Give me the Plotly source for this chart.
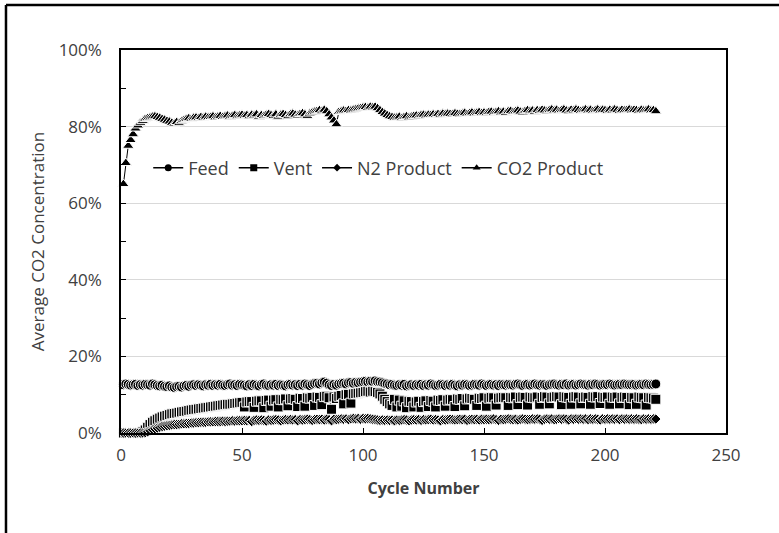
import plotly.graph_objects as go

cycles = list(range(1, 222))

feed = [12.6,12.8,12.7,12.5,12.6,12.7,12.4,12.6,12.5,12.7,
12.6,12.5,12.8,12.6,12.4,12.3,12.5,12.2,12.1,12.3,
12.0,11.9,12.1,12.2,12.0,12.3,12.4,12.2,12.5,12.6,
12.4,12.6,12.5,12.3,12.6,12.5,12.7,12.4,12.6,12.5,
12.7,12.5,12.4,12.6,12.8,12.5,12.6,12.4,12.7,12.6,
12.5,12.3,12.6,12.4,12.7,12.5,12.3,12.6,12.8,12.5,
12.4,12.6,12.5,12.7,12.4,12.6,12.5,12.3,12.6,12.7,
12.5,12.6,12.4,12.7,12.5,12.8,12.6,12.4,12.7,12.9,
13.0,12.8,13.1,13.3,13.0,12.6,12.4,12.7,12.5,12.8,
12.9,13.0,12.8,13.1,13.2,13.0,13.2,13.1,13.3,13.4,
13.5,13.3,13.5,13.4,13.6,13.4,13.3,13.1,12.9,12.8,
12.6,12.7,12.5,12.4,12.6,12.5,12.7,12.3,12.5,12.6,
12.4,12.6,12.5,12.7,12.4,12.6,12.5,12.8,12.6,12.4,
12.5,12.7,12.6,12.4,12.6,12.5,12.7,12.5,12.3,12.6,
12.5,12.7,12.6,12.4,12.5,12.7,12.6,12.5,12.8,12.6,
12.4,12.6,12.7,12.5,12.6,12.4,12.7,12.6,12.5,12.7,
12.6,12.5,12.7,12.8,12.6,12.4,12.6,12.7,12.5,12.6,
12.8,12.6,12.5,12.7,12.6,12.4,12.6,12.7,12.8,12.6,
12.5,12.7,12.6,12.8,12.5,12.6,12.7,12.5,12.6,12.8,
12.7,12.6,12.5,12.7,12.6,12.8,12.7,12.5,12.6,12.7,
12.6,12.8,12.7,12.5,12.6,12.7,12.6,12.8,12.7,12.6,
12.6,12.7,12.5,12.6,12.7,12.6,12.8,12.7,12.6,12.7,
12.8]

vent = [0,0,0,0,0,0,0,0,0.3,0.8,
1.5,2.2,2.8,3.2,3.6,3.9,4.2,4.4,4.6,4.8,
5.0,5.1,5.2,5.4,5.5,5.6,5.7,5.9,6.0,6.1,
6.2,6.3,6.4,6.5,6.6,6.7,6.8,6.9,7.0,7.1,
7.2,7.3,7.4,7.5,7.5,7.6,7.7,7.8,7.9,8.0,
6.8,8.1,8.2,8.2,6.7,8.3,8.4,8.4,6.6,8.5,
8.6,7.0,8.6,8.7,6.8,8.8,8.7,8.9,7.1,8.9,
9.0,8.8,6.9,9.1,9.0,7.0,9.2,9.1,9.3,7.2,
9.4,9.3,7.4,9.5,9.6,9.2,6.2,9.4,9.0,9.6,
9.8,7.6,10.0,10.1,7.8,10.2,10.3,10.4,10.5,10.6,
10.8,10.9,10.7,10.9,10.8,10.6,10.2,9.6,8.8,8.2,
7.6,7.2,8.8,6.8,8.6,7.0,8.4,6.6,8.3,8.2,
6.8,8.1,8.3,6.7,8.2,8.4,6.9,8.5,8.3,6.8,
8.6,8.5,8.7,7.0,8.6,8.8,8.7,6.9,8.9,8.8,
9.0,7.1,8.9,9.1,9.0,8.8,7.2,9.1,9.0,9.2,
7.0,9.1,9.3,9.2,7.3,9.1,9.2,9.3,9.2,7.2,
9.3,9.2,9.4,7.4,9.3,9.4,9.3,7.3,9.4,9.3,
9.2,9.4,7.5,9.3,9.5,9.4,7.6,9.3,9.4,9.5,
9.4,7.4,9.5,9.4,9.3,7.5,9.4,9.5,9.4,7.6,
9.3,9.4,9.3,7.5,9.5,9.4,9.5,7.7,9.4,9.3,
9.4,7.5,9.4,9.3,9.4,7.6,9.3,9.4,9.3,7.4,
9.3,9.2,7.5,9.4,9.3,9.2,7.3,9.3,9.2,9.1,
8.8]

n2_product = [0,0,0,0,0,0,0,0,0,0.1,
0.3,0.6,0.9,1.1,1.3,1.5,1.7,1.8,1.9,2.0,
2.1,2.2,2.2,2.3,2.4,2.4,2.5,2.5,2.6,2.6,
2.7,2.7,2.8,2.8,2.8,2.9,2.9,2.9,3.0,3.0,
3.0,3.1,3.0,3.1,3.1,3.2,3.1,3.2,3.2,3.2,
3.3,3.2,3.3,3.0,3.3,3.4,3.3,3.4,3.3,3.1,
3.4,3.3,3.4,3.5,3.4,3.2,3.4,3.5,3.4,3.5,
3.4,3.5,3.2,3.5,3.4,3.5,3.6,3.5,3.3,3.5,
3.6,3.5,3.6,3.4,3.6,3.5,3.2,3.6,3.5,3.6,
3.7,3.6,3.7,3.5,3.7,3.8,3.7,3.8,3.6,3.8,
3.7,3.8,3.7,3.6,3.5,3.4,3.3,3.4,3.3,3.4,
3.3,3.4,3.2,3.4,3.3,3.4,3.5,3.4,3.2,3.4,
3.5,3.4,3.5,3.3,3.5,3.4,3.5,3.6,3.4,3.5,
3.4,3.2,3.5,3.4,3.5,3.6,3.5,3.4,3.5,3.6,
3.5,3.6,3.3,3.5,3.6,3.5,3.6,3.4,3.6,3.5,
3.6,3.5,3.6,3.7,3.5,3.3,3.6,3.5,3.6,3.7,
3.6,3.5,3.6,3.4,3.6,3.7,3.6,3.5,3.6,3.7,
3.6,3.7,3.6,3.3,3.6,3.7,3.6,3.7,3.5,3.6,
3.7,3.6,3.7,3.6,3.4,3.7,3.6,3.7,3.6,3.7,
3.6,3.7,3.5,3.7,3.6,3.7,3.6,3.4,3.7,3.6,
3.7,3.6,3.7,3.6,3.7,3.5,3.7,3.6,3.7,3.6,
3.7,3.6,3.7,3.6,3.5,3.7,3.6,3.7,3.6,3.7,
3.65]

co2_product = [65.0,70.5,75.0,76.5,78.0,79.5,80.3,81.0,81.5,82.0,
82.2,82.4,82.6,82.7,82.5,82.3,82.0,81.8,81.5,81.3,
81.0,80.8,81.2,80.9,81.4,81.7,82.0,82.2,82.0,82.3,
82.4,82.2,82.5,82.3,82.6,82.4,82.5,82.7,82.4,82.6,
82.8,82.5,82.7,82.9,82.6,82.8,83.0,82.7,82.9,83.1,
82.8,83.0,82.7,83.1,82.9,83.2,82.6,83.0,82.8,83.1,
83.3,83.0,82.8,83.2,82.6,83.1,83.3,83.0,82.7,83.2,
83.4,83.1,82.9,83.3,83.5,83.2,82.8,83.4,83.7,83.9,
84.1,84.3,84.0,84.4,84.0,83.2,82.4,81.6,80.6,83.8,
84.0,84.2,84.1,84.3,84.2,84.4,84.5,84.7,84.8,85.0,
85.1,84.9,85.2,85.0,85.2,84.8,84.3,83.8,83.4,83.0,
82.7,82.5,82.3,82.4,82.6,82.2,82.5,82.7,82.4,82.6,
82.8,82.9,82.7,83.0,83.1,82.9,83.1,83.0,83.2,83.0,
83.3,83.1,83.4,83.2,83.4,83.3,83.2,83.5,83.3,83.2,
83.4,83.6,83.3,83.5,83.7,83.4,83.6,83.8,83.5,83.7,
83.5,83.8,83.9,83.6,83.8,84.0,83.7,83.9,83.6,84.0,
84.1,83.8,84.0,84.2,83.9,83.7,84.1,84.3,84.0,84.2,
83.9,84.3,84.1,84.4,84.2,84.0,84.3,84.5,84.2,84.4,
84.1,84.3,84.5,84.2,84.0,84.4,84.2,84.5,84.3,84.1,
84.3,84.5,84.2,84.4,84.1,84.3,84.5,84.2,84.4,84.3,
84.1,84.4,84.2,84.5,84.3,84.1,84.4,84.2,84.3,84.5,
84.2,84.4,84.3,84.1,84.4,84.2,84.3,84.5,84.2,84.3,
84.0]

series = [
    ("Feed", feed, "circle", 10),
    ("Vent", vent, "square", 10),
    ("N2 Product", n2_product, "diamond", 8),
    ("CO2 Product", co2_product, "triangle-up", 10),
]

FONT = "Open Sans"
TXT = "#404040"
FS = 17

fig = go.Figure()
for name, vals, sym, sz in series:
    fig.add_trace(go.Scatter(
        x=cycles, y=[v / 100 for v in vals], mode="lines+markers", name=name,
        showlegend=False, cliponaxis=False,
        line=dict(color="black", width=1),
        marker=dict(symbol=sym, size=sz, color="black",
                    line=dict(color="white", width=1)),
    ))
for name, vals, sym, sz in series:
    fig.add_trace(go.Scatter(
        x=[None], y=[None], mode="lines+markers", name=name,
        line=dict(color="black", width=1.5),
        marker=dict(symbol=sym, size=7 if sym != "diamond" else 6, color="black"),
    ))

fig.update_layout(
    width=779, height=533,
    margin=dict(l=121, r=53, t=50, b=100),
    paper_bgcolor="white", plot_bgcolor="white",
    font=dict(family=FONT, size=FS, color=TXT),
    showlegend=True,
    legend=dict(orientation="h", x=0.045, y=0.692, xanchor="left", yanchor="middle",
                bgcolor="rgba(0,0,0,0)", font=dict(size=18, color=TXT),
                itemwidth=30, tracegroupgap=0),
    xaxis=dict(range=[0, 250], dtick=50, tick0=0, showgrid=False,
               showline=True, linecolor="black", linewidth=1.5, mirror=True,
               ticks="inside", ticklen=5, tickcolor="black", ticklabelstandoff=6,
               tickfont=dict(size=FS, color=TXT), zeroline=False,
               title=dict(text="<b>Cycle Number</b>", font=dict(size=16, color=TXT), standoff=18)),
    yaxis=dict(range=[0, 1], dtick=0.2, tick0=0, tickformat=".0%",
               showgrid=True, gridcolor="#d9d9d9", gridwidth=1,
               showline=True, linecolor="black", linewidth=1.5, mirror=True,
               ticks="inside", ticklen=5, tickcolor="black", ticklabelstandoff=14,
               minor=dict(dtick=0.1, ticks="inside", ticklen=5, tickcolor="black", showgrid=False),
               tickfont=dict(size=FS, color=TXT), zeroline=False,
               title=dict(text="Average CO2 Concentration", font=dict(size=FS, color=TXT), standoff=10)),
    shapes=[
        dict(type="line", xref="paper", yref="paper", x0=-0.1901, x1=-0.1901, y0=-0.3, y1=1.1175,
             line=dict(color="black", width=2.5)),
        dict(type="line", xref="paper", yref="paper", x0=-0.1901, x1=1.12, y0=1.1175, y1=1.1175,
             line=dict(color="black", width=2.5)),
    ],
)

fig.write_html("out.html")
